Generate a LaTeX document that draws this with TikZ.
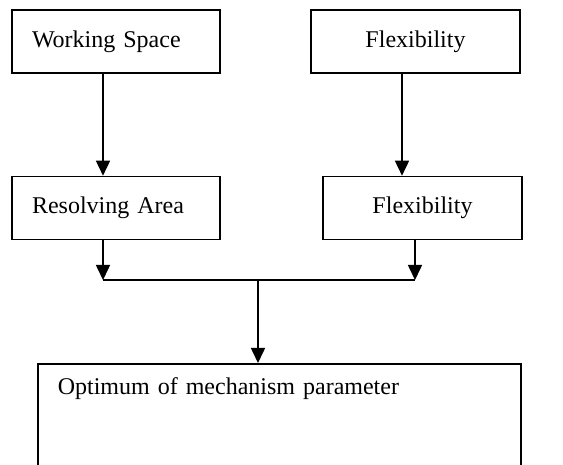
\documentclass[tikz,border=0pt]{standalone}
\usepackage{fontspec}
\setmainfont{Liberation Serif}
\usetikzlibrary{arrows.meta,positioning}
\tikzset{
	blk/.style={draw, line width=1.6pt, minimum height=63pt, inner ysep=0pt, font=\fontsize{24}{28}\selectfont},
	arr/.style={line width=1.6pt, -{Triangle[width=14pt,length=15pt]}},
	bar/.style={line width=1.6pt},
}

\begin{document}
\begin{tikzpicture}[x=1pt,y=-1pt]
			%%%%% START %%%%%
			\useasboundingbox (0,0) rectangle (563,465);
			
			\node[blk, text width=168pt, align=left, inner xsep=20pt] (work) at (116,41.5) {Working Space};
			\node[blk, minimum width=209pt] (flex) at (415.5,41.5) {Flexibility};
			\node[blk, text width=168pt, align=left, inner xsep=20pt] (resolve) at (116,208) {Resolving Area};
			\node[blk, minimum width=199pt] (flexb) at (422.5,208) {Flexibility};
			
			\coordinate (jl) at (103,280);
			\coordinate (jr) at (415,280);
			\coordinate (jm) at (258,280);
			\coordinate (fx) at (402,0);
			
			\draw[arr] (work.south -| jl) -- (resolve.north -| jl);
			\draw[arr] (flex.south -| fx) -- (flexb.north -| fx);
			
			\draw[arr] (resolve.south -| jl) -- (jl);
			\draw[arr] (flexb.south -| jr) -- (jr);
			\draw[bar] (jl) -- (jr);
			
			\begin{scope}
			\clip (0,0) rectangle (563,465);
			\node[blk, anchor=north west, text width=443pt, align=left, inner xsep=20pt, inner ysep=14pt, text depth=140pt] (opt) at (37,363) {Optimum of mechanism parameter};
			\end{scope}
			
			\draw[arr] (jm) -- (opt.north -| jm);
			
			%%%%% END %%%%%
\end{tikzpicture}
\end{document}
